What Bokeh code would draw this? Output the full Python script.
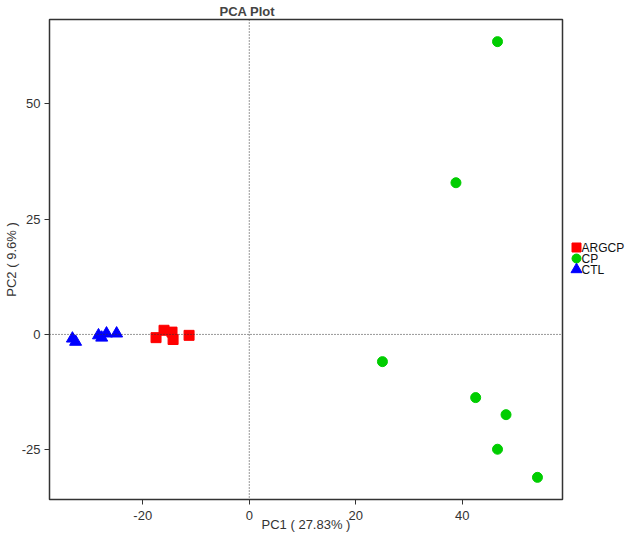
from bokeh.plotting import figure
from bokeh.models import Span, FixedTicker, FactorRange, Range1d, Spacer
from bokeh.layouts import row, column
from bokeh.core.properties import value
from bokeh.embed import file_html
from bokeh.resources import INLINE

argcp_x = [-17.5, -16.0, -14.5, -14.3, -11.3]
argcp_y = [-0.7, 0.9, 0.5, -1.1, -0.2]
cp_x = [46.6, 38.8, 25.0, 42.5, 48.2, 46.6, 54.1]
cp_y = [63.5, 32.9, -5.9, -13.7, -17.4, -24.9, -31.0]
ctl_x = [-33.2, -32.6, -28.3, -27.7, -26.8, -24.9]
ctl_y = [-0.9, -1.6, -0.2, -0.7, 0.2, 0.2]
x_ticks = [-20, 0, 20, 40]
y_ticks = [-25, 0, 25, 50]
groups = ["ARGCP", "CP", "CTL"]
group_colors = ["#FF0000", "#00CD00", "#0000FF"]
group_markers = ["square", "circle", "triangle"]

FONT = "Liberation Sans"
FW, FH = 513, 480

p = figure(frame_width=FW, frame_height=FH, x_range=(-37.5, 58.8), y_range=(-35.8, 68.3),
           output_backend="svg", toolbar_location=None,
           min_border_left=0, min_border_right=2, min_border_top=15, min_border_bottom=0)
p.title.text = "PCA Plot"
p.title.text_font = FONT
p.title.text_font_size = "13px"
p.title.text_font_style = "bold"
p.title.align = "left"
p.title.offset = 170
p.title.standoff = 2

p.xgrid.visible = False
p.ygrid.visible = False
p.outline_line_color = "#333333"
p.outline_line_width = 1.5
p.background_fill_color = "white"
p.border_fill_color = "white"

for ax in (p.xaxis[0], p.yaxis[0]):
    ax.axis_line_color = None
    ax.major_tick_line_color = "#333333"
    ax.major_tick_out = 5
    ax.major_tick_in = 0
    ax.minor_tick_line_color = None
    ax.major_label_text_font = FONT
    ax.major_label_text_font_size = "13px"
    ax.major_label_text_color = "#333333"
    ax.axis_label_text_font = FONT
    ax.axis_label_text_font_size = "13px"
    ax.axis_label_text_font_style = "normal"
    ax.axis_label_text_color = "#333333"

p.xaxis[0].ticker = FixedTicker(ticks=x_ticks)
p.yaxis[0].ticker = FixedTicker(ticks=y_ticks)
p.xaxis[0].major_label_overrides = {t: str(t) for t in x_ticks}
p.yaxis[0].major_label_overrides = {t: str(t) for t in y_ticks}
p.xaxis[0].axis_label = "PC1 ( 27.83% )"
p.yaxis[0].axis_label = "PC2 ( 9.6% )"
p.xaxis[0].major_label_standoff = 6
p.xaxis[0].axis_label_standoff = -6
p.yaxis[0].major_label_standoff = 4
p.yaxis[0].axis_label_standoff = 0
p.yaxis[0].major_label_orientation = "horizontal"

p.add_layout(Span(location=0, dimension="width", line_color="#333333", line_dash="1 2", line_width=1))
p.add_layout(Span(location=0, dimension="height", line_color="#333333", line_dash="1 2", line_width=1))

p.scatter(argcp_x, argcp_y, marker="square", size=10, color=group_colors[0])
p.scatter(cp_x, cp_y, marker="circle", size=10, color=group_colors[1])
p.scatter(ctl_x, ctl_y, marker="triangle", size=12, color=group_colors[2])

# legend drawn as a small companion figure (categorical axis = groups)
lf = figure(width=66, height=44, x_range=Range1d(-12, 54),
            y_range=FactorRange(factors=list(reversed(groups)), range_padding=0.5,
                                range_padding_units="absolute"),
            output_backend="svg", toolbar_location=None,
            min_border_left=0, min_border_right=0, min_border_top=0, min_border_bottom=0)
lf.axis.visible = False
lf.grid.visible = False
lf.outline_line_color = None
lf.scatter(x=[0] * len(groups), y=groups, marker=group_markers, color=group_colors,
           size=[9, 9, 11])
lf.text(x=[0] * len(groups), y=groups, text=groups, x_offset=5, text_baseline="middle",
        text_font=value(FONT), text_font_size="12px", text_color="#111111")

layout = row(p, column(Spacer(width=66, height=236), lf))

open("out.html", "w").write(file_html(layout, INLINE))
